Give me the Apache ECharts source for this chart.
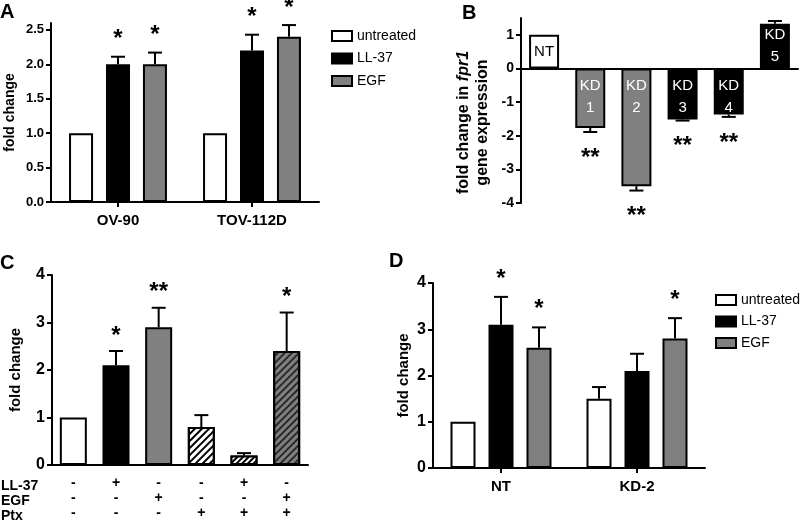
<!DOCTYPE html>
<html>
<head>
<meta charset="utf-8">
<script src="https://cdn.jsdelivr.net/npm/echarts@6/dist/echarts.min.js"></script>
<style>
html,body{margin:0;padding:0;background:#fff;}
#c{width:800px;height:521px;}
</style>
</head>
<body>
<div id="c"></div>
<script>
// ---------- DATA ----------
// Panel A
const catsA = ['OV-90', 'TOV-112D'];
const untreatedA = [1.0, 1.0];
const ll37A = [2.0, 2.2];
const egfA = [2.0, 2.4];
const untreatedErrA = [null, null];
const ll37ErrA = [2.11, 2.43];
const egfErrA = [2.17, 2.57];
const untreatedStarA = ['', ''];
const ll37StarA = ['*', '*'];
const egfStarA = ['*', '*'];
const ticksA = [0, 0.5, 1.0, 1.5, 2.0, 2.5];

// Panel B
const catsB = ['NT', 'KD 1', 'KD 2', 'KD 3', 'KD 4', 'KD 5'];
const valsB = [1.0, -1.77, -3.5, -1.52, -1.37, 1.33];
const errB = [null, -1.89, -3.63, -1.55, -1.44, 1.41];
const starsB = ['', '**', '**', '**', '**', ''];
const ticksB = [-4, -3, -2, -1, 0, 1];

// Panel C
const rowNamesC = ['LL-37', 'EGF', 'Ptx'];
const ll37C = ['-', '+', '-', '-', '+', '-'];
const egfC = ['-', '-', '+', '-', '-', '+'];
const ptxC = ['-', '-', '-', '+', '+', '+'];
const valsC = [1.0, 2.1, 2.9, 0.8, 0.2, 2.4];
const errC = [null, 2.4, 3.31, 1.05, 0.25, 3.21];
const starsC = ['', '*', '**', '', '', '*'];

// Panel D
const catsD = ['NT', 'KD-2'];
const untreatedD = [1.0, 1.5];
const ll37D = [3.1, 2.1];
const egfD = [2.6, 2.8];
const untreatedErrD = [null, 1.75];
const ll37ErrD = [3.7, 2.47];
const egfErrD = [3.04, 3.24];
const untreatedStarD = ['', ''];
const ll37StarD = ['*', ''];
const egfStarD = ['*', '*'];

const seriesNames = ['untreated', 'LL-37', 'EGF'];
const panelLetters = ['A', 'B', 'C', 'D'];

// ---------- STYLE ----------
const FONT = '"Liberation Sans", Arial, Helvetica, sans-serif';
const WHITE = '#ffffff', BLACK = '#000000', GRAY = '#808080';
const fills = [WHITE, BLACK, GRAY];

const chart = echarts.init(document.getElementById('c'), null, {renderer: 'canvas'});

function yAxisBase(gi, fs, extra) {
  return Object.assign({
    type: 'value', gridIndex: gi,
    splitLine: {show: false},
    axisLine: {show: true, lineStyle: {color: BLACK, width: 2}},
    axisTick: {show: true, length: 5, lineStyle: {color: BLACK, width: 2}},
    axisLabel: {color: BLACK, fontWeight: 'bold', fontSize: fs, fontFamily: FONT, margin: 7},
    nameLocation: 'middle', nameRotate: 90,
    nameTextStyle: {color: BLACK, fontWeight: 'bold', fontSize: 14, fontFamily: FONT}
  }, extra);
}
function xAxisBase(gi, extra) {
  return Object.assign({
    type: 'category', gridIndex: gi,
    axisLine: {show: true, onZero: true, lineStyle: {color: BLACK, width: 2}},
    axisTick: {show: true, alignWithLabel: true, length: 5, lineStyle: {color: BLACK, width: 2}},
    axisLabel: {color: BLACK, fontWeight: 'bold', fontSize: 15, fontFamily: FONT, margin: 11},
    splitLine: {show: false}
  }, extra);
}

// error bars + stars (custom series)
function errSeries(xi, cats, vals, errs, stars, offset, capW, starFont, starGap) {
  const data = cats.map((c, i) => [i, vals[i], errs[i] == null ? vals[i] : errs[i], errs[i] == null ? 0 : 1]);
  return {
    type: 'custom', xAxisIndex: xi, yAxisIndex: xi, z: 5, silent: true,
    encode: {x: 0, y: [1, 2]},
    data: data,
    renderItem: function (params, api) {
      const i = params.dataIndex;
      const v = api.value(1), e = api.value(2), has = api.value(3);
      const p0 = api.coord([api.value(0), v]);
      const p1 = api.coord([api.value(0), e]);
      const x = p0[0] + offset;
      const children = [];
      if (has) {
        children.push({type: 'line', shape: {x1: x, y1: p0[1], x2: x, y2: p1[1]},
          style: {stroke: BLACK, lineWidth: 2}});
        children.push({type: 'line', shape: {x1: x - capW / 2, y1: p1[1], x2: x + capW / 2, y2: p1[1]},
          style: {stroke: BLACK, lineWidth: 2}});
      }
      const st = stars[i];
      if (st) {
        const dir = e < 0 ? 1 : -1;
        children.push({type: 'text', style: {
          text: st, x: x, y: p1[1] + dir * starGap + 6,
          align: 'center', verticalAlign: 'middle',
          font: 'bold ' + starFont + 'px ' + FONT, fill: BLACK}});
      }
      return {type: 'group', children: children};
    }
  };
}

function barSeries(name, xi, data, fill, bw, gap) {
  return {
    name: name, type: 'bar', xAxisIndex: xi, yAxisIndex: xi,
    data: data, barWidth: bw, barGap: gap,
    itemStyle: {color: fill, borderColor: BLACK, borderWidth: 2},
    emphasis: {disabled: true}
  };
}

// Panel C bar items with hatch decals
const decalFor = (col, dash) => ({symbol: 'rect', symbolSize: 1, color: col, dashArrayX: [1, 0], dashArrayY: dash, rotation: -Math.PI / 4});
const styleC = [
  {color: WHITE},
  {color: BLACK},
  {color: GRAY},
  {color: WHITE, decal: decalFor(BLACK, [1.5, 2.5])},
  {color: BLACK, decal: decalFor(WHITE, [2, 2])},
  {color: GRAY, decal: decalFor('#2a2a2a', [1.5, 2.5])}
];

// Panel B label styling
const labelB = catsB.map((c, i) => {
  if (i === 0) return {show: true, position: 'inside', color: BLACK};
  if (valsB[i] < 0) return {show: true, position: 'insideTop', distance: 6, color: WHITE};
  return {show: true, position: 'inside', color: WHITE};
});
const fillB = [WHITE, GRAY, GRAY, BLACK, BLACK, BLACK];

const A_OFF = 37, D_OFF = 38;

const option = {
  animation: false,
  backgroundColor: '#fff',
  textStyle: {fontFamily: FONT},
  grid: [
    {left: 51, top: 23, width: 268, height: 179},
    {left: 521, top: 18, width: 277, height: 185},
    {left: 52, top: 275, width: 256, height: 194},
    {left: 433, top: 283, width: 272, height: 185}
  ],
  xAxis: [
    xAxisBase(0, {data: catsA}),
    xAxisBase(1, {data: catsB, axisTick: {show: false}, axisLabel: {show: false}}),
    xAxisBase(2, {data: ll37C.map((v, i) => [ll37C[i], egfC[i], ptxC[i]].join('\n')),
      axisTick: {show: false},
      axisLabel: {color: BLACK, fontWeight: 'bold', fontSize: 14, fontFamily: FONT, margin: 11, lineHeight: 15}}),
    xAxisBase(3, {data: catsD})
  ],
  yAxis: [
    yAxisBase(0, 13, {min: 0, max: 2.6, name: 'fold change', nameGap: 34,
      axisLabel: {color: BLACK, fontWeight: 'bold', fontSize: 13, fontFamily: FONT, margin: 7, customValues: ticksA,
        formatter: v => v.toFixed(1)},
      axisTick: {show: true, length: 5, lineStyle: {color: BLACK, width: 2}, customValues: ticksA}}),
    yAxisBase(1, 13, {min: -4, max: 1.5,
      name: '{a|fold change in }{i|fpr1}\n{a|gene expression}', nameGap: 29,
      nameTextStyle: {color: BLACK, fontWeight: 'bold', fontSize: 16, fontFamily: FONT, lineHeight: 19, padding: [0, 24, 0, 0],
        rich: {a: {fontWeight: 'bold', fontSize: 16, lineHeight: 19, fontFamily: FONT, color: BLACK},
               i: {fontWeight: 'bold', fontStyle: 'italic', fontSize: 16, lineHeight: 19, fontFamily: FONT, color: BLACK}}},
      axisLabel: {color: BLACK, fontWeight: 'bold', fontSize: 14, fontFamily: FONT, margin: 7, customValues: ticksB},
      axisTick: {show: true, length: 5, lineStyle: {color: BLACK, width: 2}, customValues: ticksB}}),
    yAxisBase(2, 16, {min: 0, max: 4, interval: 1, name: 'fold change', nameGap: 29,
      nameTextStyle: {color: BLACK, fontWeight: 'bold', fontSize: 15, fontFamily: FONT}}),
    yAxisBase(3, 16, {min: 0, max: 4, interval: 1, name: 'fold change', nameGap: 22,
      nameTextStyle: {color: BLACK, fontWeight: 'bold', fontSize: 15, fontFamily: FONT}})
  ],
  legend: [
    {data: seriesNames, orient: 'vertical', left: 326, top: 24, itemWidth: 20, itemHeight: 10, itemGap: 8.5,
     icon: 'rect', selectedMode: false, textStyle: {fontSize: 14, color: BLACK, fontFamily: FONT}},
    {data: seriesNames, orient: 'vertical', left: 710, top: 288, itemWidth: 20, itemHeight: 10, itemGap: 7.5,
     icon: 'rect', selectedMode: false, textStyle: {fontSize: 14, color: BLACK, fontFamily: FONT}}
  ],
  graphic: [
    {type: 'text', left: 0, top: 2, style: {text: panelLetters[0], font: 'bold 20px ' + FONT, fill: BLACK}},
    {type: 'text', left: 462, top: 3, style: {text: panelLetters[1], font: 'bold 20px ' + FONT, fill: BLACK}},
    {type: 'text', left: 0, top: 253, style: {text: panelLetters[2], font: 'bold 20px ' + FONT, fill: BLACK}},
    {type: 'text', left: 389, top: 251, style: {text: panelLetters[3], font: 'bold 20px ' + FONT, fill: BLACK}},
    {type: 'text', left: 1, top: 479, style: {text: rowNamesC.join('\n'), font: 'bold 14px ' + FONT, lineHeight: 15, fill: BLACK}}
  ],
  series: [
    barSeries(seriesNames[0], 0, untreatedA, fills[0], 24, '54%'),
    barSeries(seriesNames[1], 0, ll37A, fills[1], 24, '54%'),
    barSeries(seriesNames[2], 0, egfA, fills[2], 24, '54%'),
    errSeries(0, catsA, untreatedA, untreatedErrA, untreatedStarA, -A_OFF, 14, 24, 23),
    errSeries(0, catsA, ll37A, ll37ErrA, ll37StarA, 0, 14, 24, 23),
    errSeries(0, catsA, egfA, egfErrA, egfStarA, A_OFF, 14, 24, 23),
    {
      name: 'B', type: 'bar', xAxisIndex: 1, yAxisIndex: 1, barWidth: 30,
      emphasis: {disabled: true},
      data: valsB.map((v, i) => ({value: v,
        itemStyle: {color: fillB[i], borderColor: BLACK, borderWidth: 2},
        label: Object.assign({formatter: catsB[i].replace(' ', '\n'), fontSize: 15, lineHeight: 22, fontFamily: FONT}, labelB[i])}))
    },
    errSeries(1, catsB, valsB, errB, starsB, 0, 14, 24, 20),
    {
      name: 'C', type: 'bar', xAxisIndex: 2, yAxisIndex: 2, barWidth: 27,
      emphasis: {disabled: true},
      data: valsC.map((v, i) => ({value: v,
        itemStyle: Object.assign({borderColor: BLACK, borderWidth: 2}, styleC[i])}))
    },
    errSeries(2, ll37C, valsC, errC, starsC, 0, 14, 24, 21),
    barSeries(seriesNames[0], 3, untreatedD, fills[0], 25, '52%'),
    barSeries(seriesNames[1], 3, ll37D, fills[1], 25, '52%'),
    barSeries(seriesNames[2], 3, egfD, fills[2], 25, '52%'),
    errSeries(3, catsD, untreatedD, untreatedErrD, untreatedStarD, -D_OFF, 14, 24, 24),
    errSeries(3, catsD, ll37D, ll37ErrD, ll37StarD, 0, 14, 24, 24),
    errSeries(3, catsD, egfD, egfErrD, egfStarD, D_OFF, 14, 24, 24)
  ]
};
chart.setOption(option);
</script>
</body>
</html>
